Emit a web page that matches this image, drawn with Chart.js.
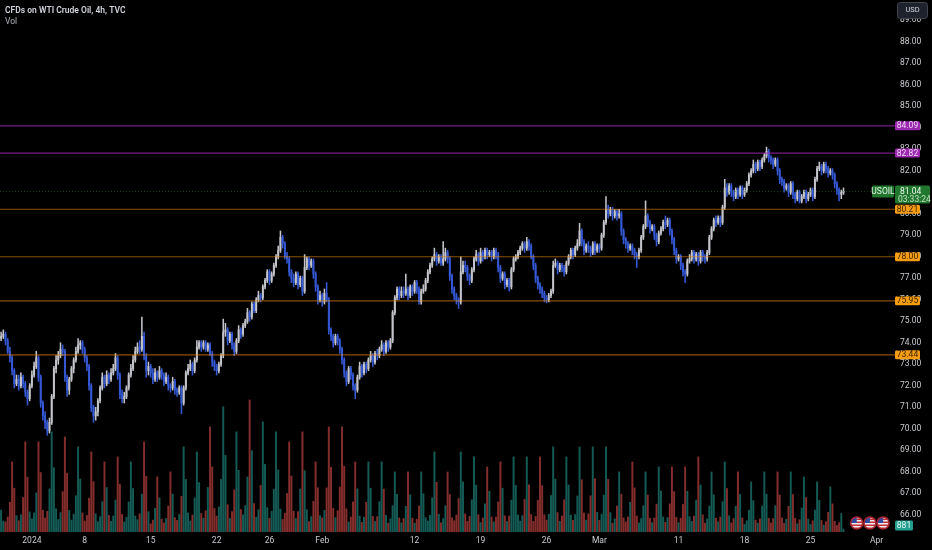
<!DOCTYPE html>
<html>
<head>
<meta charset="utf-8">
<script src="https://cdn.jsdelivr.net/npm/chart.js@4.4.1/dist/chart.umd.min.js"></script>
<style>
    html, body { margin: 0; padding: 0; background: #000; }
    #wrap { width: 932px; height: 550px; }
</style>
</head>
<body>
<div id="wrap"><canvas id="myChart" width="932" height="550"></canvas></div>
<script>
const firstOpen = 74.2;

const tradingDays = ['Dec 27', 'Dec 28', 'Dec 29', 'Jan 2', 'Jan 3', 'Jan 4', 'Jan 5',
    'Jan 8', 'Jan 9', 'Jan 10', 'Jan 11', 'Jan 12', 'Jan 15', 'Jan 16', 'Jan 17', 'Jan 18', 'Jan 19',
    'Jan 22', 'Jan 23', 'Jan 24', 'Jan 25', 'Jan 26', 'Jan 29', 'Jan 30', 'Jan 31', 'Feb 1', 'Feb 2',
    'Feb 5', 'Feb 6', 'Feb 7', 'Feb 8', 'Feb 9', 'Feb 12', 'Feb 13', 'Feb 14', 'Feb 15', 'Feb 16',
    'Feb 19', 'Feb 20', 'Feb 21', 'Feb 22', 'Feb 23', 'Feb 26', 'Feb 27', 'Feb 28', 'Feb 29', 'Mar 1',
    'Mar 4', 'Mar 5', 'Mar 6', 'Mar 7', 'Mar 8', 'Mar 11', 'Mar 12', 'Mar 13', 'Mar 14', 'Mar 15',
    'Mar 18', 'Mar 19', 'Mar 20', 'Mar 21', 'Mar 22', 'Mar 25', 'Mar 26', 'Mar 27', 'Mar 28', 'Mar 29',
    'Apr 1', 'Apr 2'];
const sessionHours = ['18:00', '22:00', '02:00', '06:00', '10:00', '14:00'];

const tickDays = ['Jan 2', 'Jan 8', 'Jan 15', 'Jan 22', 'Jan 26', 'Feb 1', 'Feb 12', 'Feb 19', 'Feb 26', 'Mar 1', 'Mar 11', 'Mar 18', 'Mar 25', 'Apr 1'];
const tickTexts = ['2024', '8', '15', '22', '26', 'Feb', '12', '19', '26', 'Mar', '11', '18', '25', 'Apr'];

const eventDays = ['Mar 28', 'Mar 29', 'Apr 1'];

const purpleLevels = [84.09, 82.82];
const orangeLevels = [80.21, 78.00, 75.95, 73.44];
const lastPrice = 81.04;
const countdown = '03:33:24';

// one row per trading day, 4h bars
const closes = [74.3, 74.4,
    74.1, 73.6, 73.3, 72.7, 72.1, 72.3,
    72.0, 72.4, 72.1, 71.7, 71.4, 72.0,
    72.5, 72.9, 73.3, 72.4, 71.2, 70.6,
    70.3, 69.9, 70.3, 71.5, 72.8, 73.2,
    73.4, 73.7, 73.6, 72.4, 71.8, 72.3,
    72.8, 73.2, 73.6, 73.9, 74.0, 73.7,
    73.3, 72.9, 72.0, 71.0, 70.6, 70.8,
    71.3, 71.9, 72.4, 72.1, 72.5, 72.3,
    72.6, 72.8, 73.3, 72.5, 71.6, 71.4,
    71.5, 71.9, 72.5, 72.8, 73.2, 73.6,
    73.8, 73.7, 74.3, 73.4, 72.7, 72.9,
    72.6, 72.3, 72.6, 72.4, 72.7, 72.5,
    72.2, 72.4, 72.0, 71.9, 72.2, 71.8,
    71.7, 71.9, 71.2, 71.9, 72.6, 72.8,
    73.0, 72.7, 73.2, 73.8, 74.0, 73.8,
    74.0, 73.7, 73.9, 73.5, 73.1, 72.9,
    72.7, 73.0, 73.4, 74.5, 74.6, 74.1,
    74.4, 73.9, 73.6, 74.1, 74.6, 74.4,
    74.8, 75.0, 75.4, 75.2, 75.8, 75.5,
    76.0, 76.2, 76.1, 76.6, 76.9, 77.3,
    76.9, 77.2, 77.6, 78.0, 78.3, 78.9,
    78.6, 78.0, 77.9, 77.3, 77.0, 76.8,
    77.2, 76.7, 77.0, 76.4, 77.5, 77.9,
    77.6, 77.8, 77.2, 76.6, 76.0, 76.2,
    75.9, 76.3, 76.0, 74.6, 74.3, 74.0,
    74.3, 74.1, 73.7, 73.2, 72.6, 72.2,
    72.8, 72.5, 72.0, 71.8, 72.4, 72.9,
    72.6, 73.0, 72.8, 73.2, 73.4, 73.1,
    73.5, 73.4, 73.7, 73.9, 73.6, 74.0,
    73.8, 74.1, 75.4, 76.1, 76.5, 76.2,
    76.4, 76.3, 76.5, 76.2, 76.6, 76.4,
    76.8, 76.5, 75.9, 76.4, 76.5, 76.9,
    77.3, 77.6, 77.9, 78.1, 77.8, 78.0,
    77.7, 77.9, 78.2, 77.9, 77.1, 76.5,
    76.2, 76.0, 75.9, 77.3, 77.6, 77.5,
    77.1, 76.9, 77.4, 77.9, 78.1, 77.8,
    78.2, 78.0, 78.3, 78.1, 78.2, 78.0,
    78.3, 78.1, 77.5, 77.0, 77.2, 76.7,
    76.9, 76.6, 77.4, 77.9, 78.0, 78.2,
    78.4, 78.6, 78.4, 78.7, 78.5, 78.0,
    77.6, 77.0, 76.7, 76.5, 76.3, 76.1,
    76.0, 76.2, 76.4, 77.6, 77.7, 77.4,
    77.6, 77.5, 77.3, 77.7, 78.0, 78.3,
    78.1, 78.4, 78.6, 79.2, 78.7, 78.3,
    78.5, 78.4, 78.2, 78.6, 78.3, 78.5,
    78.4, 79.0, 79.6, 80.2, 80.0, 80.2,
    79.9, 80.1, 79.9, 80.0, 79.2, 78.8,
    78.6, 78.4, 78.5, 78.3, 78.1, 78.0,
    78.3, 78.9, 79.4, 79.9, 79.6, 79.3,
    79.4, 79.0, 78.7, 79.1, 79.3, 79.6,
    79.5, 79.7, 79.2, 78.8, 78.3, 77.9,
    78.0, 77.6, 77.3, 77.2, 77.8, 77.9,
    78.2, 77.9, 78.1, 77.8, 78.2, 78.0,
    77.9, 78.2, 78.9, 79.3, 79.7, 79.6,
    79.8, 79.6, 80.3, 81.2, 81.0, 81.3,
    81.0, 80.8, 81.1, 80.9, 81.2, 80.9,
    81.1, 81.4, 81.8, 82.0, 82.3, 82.1,
    82.4, 82.2, 82.5, 82.7, 82.9, 82.6,
    82.5, 82.3, 82.5, 82.0, 81.6, 81.5,
    81.2, 81.3, 81.0, 81.4, 80.9, 80.7,
    81.0, 80.6, 80.8, 81.0, 80.7, 80.9,
    81.1, 80.8, 81.6, 82.1, 82.2, 82.0,
    82.3, 82.1, 81.9, 82.0, 81.8, 81.4,
    81.1, 80.9, 81.0, 81.04];

const highs = [74.5, 74.6,
    74.5, 74.2, 73.8, 73.4, 72.8, 72.5,
    72.5, 72.6, 72.5, 72.2, 71.8, 72.1,
    72.7, 73.1, 73.6, 73.4, 72.5, 71.3,
    70.8, 70.4, 70.5, 71.6, 72.9, 73.4,
    73.6, 74.0, 73.9, 73.7, 72.5, 72.4,
    72.9, 73.3, 73.8, 74.2, 74.1, 74.1,
    73.8, 73.4, 73.0, 72.1, 71.1, 71.0,
    71.4, 72.0, 72.6, 72.5, 72.7, 72.6,
    72.8, 73.0, 73.5, 73.4, 72.6, 71.8,
    71.7, 72.0, 72.6, 73.0, 73.4, 73.8,
    74.0, 74.1, 75.2, 74.5, 73.5, 73.1,
    73.0, 72.8, 72.8, 72.7, 72.9, 72.8,
    72.6, 72.6, 72.5, 72.1, 72.4, 72.3,
    71.9, 72.0, 72.0, 72.0, 72.7, 73.0,
    73.2, 73.1, 73.3, 74.1, 74.1, 74.1,
    74.1, 74.1, 74.0, 74.0, 73.6, 73.2,
    73.0, 73.1, 73.5, 75.1, 74.9, 74.7,
    74.5, 74.5, 74.0, 74.2, 74.8, 74.7,
    74.9, 75.1, 75.6, 75.5, 75.9, 75.9,
    76.1, 76.4, 76.3, 76.7, 77.0, 77.4,
    77.4, 77.3, 77.7, 78.1, 78.5, 79.2,
    79.0, 78.7, 78.2, 78.0, 77.4, 77.2,
    77.3, 77.3, 77.1, 77.1, 78.1, 78.0,
    78.0, 77.9, 77.9, 77.3, 76.7, 76.4,
    76.3, 76.5, 76.8, 76.1, 74.7, 74.4,
    74.4, 74.4, 74.2, 73.8, 73.3, 72.7,
    72.9, 72.9, 72.6, 72.1, 72.5, 73.1,
    73.0, 73.1, 73.1, 73.3, 73.6, 73.5,
    73.6, 73.7, 73.8, 74.1, 74.0, 74.1,
    74.1, 74.2, 75.5, 76.2, 76.6, 76.6,
    76.6, 76.6, 77.2, 76.6, 76.7, 76.7,
    76.9, 76.9, 76.6, 76.5, 76.7, 77.0,
    77.4, 77.7, 78.0, 78.4, 78.2, 78.1,
    78.1, 78.7, 78.4, 78.3, 78.0, 77.2,
    76.6, 76.3, 76.1, 78.0, 77.8, 77.8,
    77.6, 77.2, 77.5, 78.0, 78.3, 78.2,
    78.4, 78.3, 78.4, 78.4, 78.3, 78.3,
    78.4, 78.4, 78.2, 77.6, 77.3, 77.3,
    77.0, 77.0, 77.5, 78.0, 78.1, 78.3,
    78.5, 78.7, 78.7, 78.9, 78.8, 78.6,
    78.1, 77.7, 77.1, 76.8, 76.6, 76.4,
    76.2, 76.3, 76.5, 77.8, 77.9, 77.8,
    77.7, 77.7, 77.6, 77.8, 78.1, 78.4,
    78.4, 78.5, 78.8, 79.55, 79.3, 78.8,
    78.6, 78.7, 78.5, 78.7, 78.7, 78.6,
    78.6, 79.1, 79.7, 80.8, 80.4, 80.3,
    80.3, 80.2, 80.2, 80.2, 80.1, 79.3,
    78.9, 78.7, 78.6, 78.6, 78.4, 78.2,
    78.4, 79.0, 79.5, 80.6, 80.0, 79.7,
    79.5, 79.5, 79.1, 79.2, 79.4, 79.7,
    79.9, 79.8, 79.8, 79.3, 78.9, 78.4,
    78.1, 78.1, 77.7, 77.4, 77.9, 78.1,
    78.3, 78.3, 78.2, 78.2, 78.3, 78.3,
    78.1, 78.3, 79.0, 79.4, 79.8, 79.9,
    79.9, 79.9, 80.4, 81.6, 81.4, 81.4,
    81.4, 81.1, 81.2, 81.2, 81.3, 81.3,
    81.2, 81.5, 81.9, 82.1, 82.5, 82.4,
    82.5, 82.5, 82.6, 82.8, 83.1, 83.0,
    82.7, 82.6, 82.6, 82.6, 82.1, 81.7,
    81.6, 81.4, 81.4, 81.5, 81.5, 81.0,
    81.1, 81.1, 80.9, 81.1, 81.1, 81.0,
    81.2, 81.2, 81.7, 82.2, 82.4, 82.3,
    82.4, 82.4, 82.2, 82.1, 82.1, 81.9,
    81.5, 81.2, 81.1, 81.2];

const lows = [74.1, 74.2,
    73.9, 73.5, 73.1, 72.5, 71.9, 72.0,
    71.8, 71.9, 71.9, 71.5, 71.1, 71.3,
    71.9, 72.4, 72.8, 72.2, 71.0, 70.4,
    70.0, 69.7, 69.8, 70.2, 71.4, 72.6,
    73.0, 73.3, 73.4, 72.2, 71.5, 71.6,
    72.2, 72.6, 73.1, 73.5, 73.7, 73.5,
    73.1, 72.7, 71.8, 70.8, 70.3, 70.4,
    70.6, 71.2, 71.8, 71.9, 72.0, 72.1,
    72.2, 72.5, 72.7, 72.3, 71.4, 71.2,
    71.2, 71.4, 71.8, 72.4, 72.7, 73.1,
    73.5, 73.5, 73.6, 73.2, 72.4, 72.5,
    72.4, 72.1, 72.2, 72.2, 72.3, 72.3,
    72.0, 72.1, 71.8, 71.7, 71.8, 71.6,
    71.5, 71.6, 70.7, 71.1, 71.8, 72.5,
    72.7, 72.5, 72.6, 73.1, 73.7, 73.6,
    73.7, 73.6, 73.6, 73.4, 72.9, 72.7,
    72.5, 72.6, 72.9, 73.3, 74.3, 73.9,
    74.0, 73.7, 73.4, 73.5, 74.0, 74.2,
    74.3, 74.7, 74.9, 75.0, 75.1, 75.4,
    75.4, 75.9, 75.9, 76.0, 76.5, 76.8,
    76.7, 76.8, 77.1, 77.5, 77.9, 78.2,
    78.4, 77.9, 77.7, 77.1, 76.8, 76.6,
    76.7, 76.5, 76.6, 76.2, 76.3, 77.4,
    77.4, 77.5, 77.0, 76.4, 75.8, 75.9,
    75.7, 75.8, 75.9, 74.4, 74.1, 73.8,
    73.9, 73.9, 73.5, 73.0, 72.4, 72.0,
    72.1, 72.3, 71.8, 71.4, 71.7, 72.3,
    72.4, 72.5, 72.6, 72.7, 73.1, 72.9,
    73.0, 73.2, 73.3, 73.6, 73.4, 73.5,
    73.6, 73.7, 74.0, 75.3, 76.0, 76.0,
    76.1, 76.1, 76.2, 76.0, 76.1, 76.2,
    76.3, 76.3, 75.8, 75.8, 76.3, 76.4,
    76.8, 77.2, 77.5, 77.8, 77.6, 77.7,
    77.6, 77.6, 77.8, 77.7, 76.9, 76.3,
    76.0, 75.8, 75.6, 75.8, 77.2, 77.3,
    76.9, 76.7, 76.8, 77.3, 77.8, 77.6,
    77.7, 77.8, 77.9, 77.9, 78.0, 77.8,
    77.9, 77.9, 77.3, 76.8, 76.9, 76.5,
    76.6, 76.4, 76.5, 77.3, 77.8, 77.9,
    78.1, 78.3, 78.2, 78.3, 78.3, 77.9,
    77.4, 76.8, 76.5, 76.3, 76.1, 75.9,
    75.85, 75.9, 76.1, 76.3, 77.5, 77.2,
    77.3, 77.3, 77.1, 77.2, 77.6, 77.9,
    77.9, 78.0, 78.3, 78.5, 78.5, 78.1,
    78.2, 78.2, 78.0, 78.1, 78.1, 78.2,
    78.2, 78.3, 78.9, 79.5, 79.8, 79.9,
    79.7, 79.8, 79.7, 79.8, 79.0, 78.6,
    78.4, 78.2, 78.3, 78.1, 77.9, 77.5,
    77.9, 78.2, 78.8, 79.3, 79.4, 79.1,
    79.2, 78.8, 78.5, 78.6, 79.0, 79.2,
    79.3, 79.4, 79.0, 78.6, 78.1, 77.7,
    77.8, 77.4, 77.1, 76.8, 77.1, 77.7,
    77.8, 77.7, 77.8, 77.6, 77.7, 77.8,
    77.7, 77.8, 78.1, 78.8, 79.2, 79.4,
    79.5, 79.4, 79.5, 80.2, 80.8, 80.9,
    80.8, 80.6, 80.7, 80.7, 80.8, 80.7,
    80.8, 81.0, 81.3, 81.7, 81.9, 81.9,
    82.0, 82.0, 82.1, 82.4, 82.6, 82.4,
    82.3, 82.1, 82.2, 81.8, 81.4, 81.3,
    81.0, 81.1, 80.8, 80.9, 80.7, 80.5,
    80.6, 80.5, 80.5, 80.7, 80.5, 80.6,
    80.8, 80.6, 80.7, 81.5, 82.0, 81.8,
    81.9, 81.9, 81.7, 81.8, 81.6, 81.2,
    80.9, 80.6, 80.7, 80.9];

const volumes = [7000, 3500,
    3200, 4800, 9500, 22400, 14000, 5200,
    3600, 5500, 11000, 28800, 17500, 6400,
    4200, 6100, 12500, 28800, 19000, 7000,
    4500, 6600, 13800, 32000, 20500, 7400,
    4000, 6200, 12900, 30400, 18800, 6900,
    3800, 5700, 11600, 27200, 16900, 6100,
    3500, 5300, 10800, 25600, 16100, 5800,
    3300, 4900, 9700, 22400, 14200, 5300,
    3400, 5100, 10200, 24000, 15300, 5600,
    3200, 4700, 9600, 22400, 13900, 5100,
    3900, 5800, 12100, 28800, 17800, 6500,
    2600, 3800, 7600, 17600, 10900, 4100,
    2900, 4300, 8300, 19200, 12100, 4600,
    3700, 5600, 11400, 27200, 16800, 6100,
    3500, 5400, 10900, 25600, 15800, 5900,
    4400, 6800, 14200, 33600, 20800, 7500,
    5100, 8000, 16800, 40000, 24500, 8700,
    4300, 6500, 13500, 32000, 19700, 7200,
    5500, 8400, 17600, 42200, 26000, 9100,
    4700, 7100, 14900, 35200, 21600, 7800,
    4400, 6600, 13600, 32000, 19800, 7300,
    4000, 6000, 12300, 28800, 17900, 6600,
    4300, 6500, 13700, 32000, 19600, 7100,
    3300, 4900, 9800, 22400, 14100, 5200,
    4500, 6900, 14100, 33600, 20700, 7600,
    4600, 6800, 14400, 33600, 21000, 7400,
    3200, 4800, 9600, 22400, 13800, 5100,
    3100, 4700, 9500, 22400, 14000, 5000,
    3300, 4900, 9700, 22400, 13700, 5300,
    2800, 4200, 8400, 19200, 12000, 4500,
    2900, 4300, 8200, 19200, 11900, 4400,
    2800, 4100, 8300, 19200, 12200, 4600,
    3500, 5300, 10900, 25600, 15900, 5700,
    2900, 4300, 8400, 19200, 12000, 4500,
    3600, 5400, 10700, 25600, 16000, 5800,
    3400, 5000, 10300, 24000, 15000, 5500,
    3000, 4500, 9000, 20800, 13000, 4800,
    3200, 4800, 9600, 22400, 14000, 5200,
    3300, 5100, 10200, 24000, 14900, 5400,
    3500, 5200, 10400, 24000, 15100, 5600,
    3400, 5000, 10100, 24000, 14800, 5500,
    3800, 5700, 11700, 27200, 16900, 6200,
    3400, 5100, 10300, 24000, 15000, 5400,
    3700, 5600, 11500, 27200, 16700, 6100,
    3800, 5800, 11600, 27200, 17000, 6300,
    3700, 5700, 11800, 27200, 16800, 6200,
    2800, 4200, 8300, 19200, 12100, 4500,
    3200, 4800, 9500, 22400, 14100, 5100,
    2900, 4300, 8400, 19200, 11800, 4400,
    3000, 4500, 8900, 20800, 13100, 4800,
    3100, 4600, 9000, 20800, 12900, 4700,
    3000, 4400, 8800, 20800, 13000, 4900,
    3400, 5100, 10200, 24000, 15000, 5500,
    2800, 4200, 8300, 19200, 11900, 4400,
    3200, 4800, 9700, 22400, 13900, 5200,
    2900, 4300, 8200, 19200, 12000, 4500,
    2400, 3600, 7000, 16000, 10000, 3800,
    2800, 4200, 8300, 19200, 12100, 4400,
    2900, 4300, 8400, 19200, 11800, 4500,
    2800, 4100, 8200, 19200, 12000, 4400,
    2600, 3900, 7700, 17600, 11000, 4100,
    2400, 3600, 7000, 16000, 10100, 3700,
    2200, 3300, 6300, 14400, 9000, 3400,
    2100, 3000, 5900, 881];

const upColor = '#c3c5cb';
const downColor = '#3559d6';
const volUp = 'rgba(38, 166, 154, 0.55)';
const volDown = 'rgba(239, 83, 80, 0.55)';
const fontFamily = 'Roboto, "Noto Sans", sans-serif';

// Dec 27 only shows its last two bars, Apr 2 only two empty slots before the price scale
const categories = [];
tradingDays.forEach(day => {
    sessionHours.forEach(h => categories.push(day + ' ' + h));
});
const slots = categories.slice(4, 410);

const opens = closes.map((c, i) => i === 0 ? firstOpen : closes[i - 1]);
const bodies = closes.map((c, i) => [opens[i], c]);
const wicks = lows.map((l, i) => [l, highs[i]]);
const candleColors = closes.map((c, i) => c >= opens[i] ? upColor : downColor);
const volumeColors = closes.map((c, i) => c >= opens[i] ? volUp : volDown);

function drawBox(ctx, x, yc, w, h, bg, text, color) {
    ctx.fillStyle = bg;
    ctx.beginPath();
    ctx.roundRect(x, yc - h / 2, w, h, 1.5);
    ctx.fill();
    if (text) {
        ctx.fillStyle = color;
        ctx.textAlign = 'center';
        ctx.textBaseline = 'middle';
        ctx.fillText(text, x + w / 2, yc + 0.5);
    }
}

function drawFlag(ctx, x, y) {
    const r = 6;
    ctx.save();
    ctx.beginPath();
    ctx.arc(x, y, r, 0, Math.PI * 2);
    ctx.fillStyle = '#e9e9ee';
    ctx.fill();
    ctx.clip();
    ctx.fillStyle = '#c9303a';
    for (let k = 0; k < 4; k++) {
        ctx.fillRect(x - r, y - r + 1.5 + k * 3, r * 2, 1.5);
    }
    ctx.fillStyle = '#2f4aa0';
    ctx.fillRect(x - r, y - r, r, r);
    ctx.restore();
    ctx.beginPath();
    ctx.arc(x, y, r, 0, Math.PI * 2);
    ctx.strokeStyle = '#a8242e';
    ctx.lineWidth = 1.6;
    ctx.stroke();
}

function drawLevel(ctx, py, right, color) {
    ctx.strokeStyle = color;
    ctx.beginPath();
    ctx.moveTo(0, py);
    ctx.lineTo(right, py);
    ctx.stroke();
}

const overlays = {
    id: 'overlays',
    afterDatasetsDraw(chart) {
        const ctx = chart.ctx;
        const y = chart.scales.y;
        const right = chart.chartArea.right + 2;
        ctx.save();
        ctx.lineWidth = 1.2;
        purpleLevels.forEach(v => drawLevel(ctx, y.getPixelForValue(v), right, 'rgba(156, 39, 176, 0.75)'));
        orangeLevels.forEach(v => drawLevel(ctx, y.getPixelForValue(v), right, 'rgba(230, 135, 0, 0.6)'));
        ctx.lineWidth = 1;
        ctx.setLineDash([1, 2]);
        drawLevel(ctx, Math.round(y.getPixelForValue(lastPrice)) + 0.5, 872, 'rgba(46, 125, 50, 0.5)');
        ctx.restore();
    },
    afterDraw(chart) {
        const ctx = chart.ctx;
        const y = chart.scales.y;
        const x = chart.scales.x;
        const axisX = chart.chartArea.right + 2;
        ctx.save();

        // title
        ctx.textAlign = 'left';
        ctx.textBaseline = 'middle';
        ctx.fillStyle = '#d1d4dc';
        ctx.font = '600 8.5px ' + fontFamily;
        ctx.fillText('CFDs on WTI Crude Oil, 4h, TVC', 5, 11);
        ctx.fillStyle = '#b2b5be';
        ctx.font = '8.5px ' + fontFamily;
        ctx.fillText('Vol', 5, 21.5);

        // currency button
        ctx.fillStyle = '#1e222d';
        ctx.strokeStyle = '#434651';
        ctx.lineWidth = 1;
        ctx.beginPath();
        ctx.roundRect(897.5, 2.5, 30, 16, 3);
        ctx.fill();
        ctx.stroke();
        ctx.fillStyle = '#d1d4dc';
        ctx.textAlign = 'center';
        ctx.font = '7.5px ' + fontFamily;
        ctx.fillText('USD', 912.5, 10.5);

        ctx.font = '8.5px ' + fontFamily;
        purpleLevels.forEach(v => {
            drawBox(ctx, axisX, y.getPixelForValue(v), 25, 9, '#9c27b0', v.toFixed(2), '#ecd9f2');
        });

        // last price
        const lp = y.getPixelForValue(lastPrice);
        drawBox(ctx, 872, lp, 22, 12, '#22772f', 'USOIL', '#e6f2e7');
        ctx.fillStyle = '#22772f';
        ctx.beginPath();
        ctx.roundRect(axisX, lp - 6, 35, 18, 1.5);
        ctx.fill();
        ctx.fillStyle = '#eef6ee';
        ctx.textAlign = 'left';
        ctx.fillText(lastPrice.toFixed(2), axisX + 5, lp + 0.5);
        ctx.fillStyle = '#bfe0c1';
        ctx.fillText(countdown, axisX + 3, lp + 8.5);

        orangeLevels.forEach(v => {
            drawBox(ctx, axisX, y.getPixelForValue(v), 25, 9, '#f59c12', v.toFixed(2), '#3a2400');
        });

        // economic events
        eventDays.forEach(day => {
            const idx = slots.indexOf(day + ' ' + sessionHours[3]);
            drawFlag(ctx, x.getPixelForValue(idx), 523);
        });

        // current volume
        drawBox(ctx, axisX, 525.5, 18, 10, '#22a08f', String(volumes[volumes.length - 1]), '#e8f6f3');

        ctx.restore();
    }
};

const ctx = document.getElementById('myChart');

const grafica = new Chart(ctx, {
    type: 'bar',
    data: {
        labels: slots,
        datasets: [{
            label: 'body',
            data: bodies,
            backgroundColor: candleColors,
            barThickness: 1.3,
            minBarLength: 1,
            grouped: false,
            order: 1
        }, {
            label: 'wick',
            data: wicks,
            backgroundColor: candleColors,
            barThickness: 0.9,
            grouped: false,
            order: 2
        }, {
            label: 'Vol',
            data: volumes,
            yAxisID: 'yv',
            backgroundColor: volumeColors,
            barThickness: 1.3,
            grouped: false,
            order: 3
        }]
    },
    options: {
        responsive: false,
        animation: false,
        layout: { padding: 0 },
        plugins: {
            legend: { display: false },
            tooltip: { enabled: false }
        },
        scales: {
            x: {
                grid: { display: false, drawTicks: false },
                border: { display: false },
                afterFit: s => { s.height = 18; s.paddingLeft = 0; s.paddingRight = 0; },
                ticks: {
                    autoSkip: false,
                    maxRotation: 0,
                    minRotation: 0,
                    padding: 4,
                    color: '#c8cad0',
                    font: { family: fontFamily, size: 8.5 },
                    callback: function (value) {
                        const parts = this.getLabelForValue(value).split(' ');
                        if (parts[2] !== sessionHours[0]) return '';
                        const pos = tickDays.indexOf(parts[0] + ' ' + parts[1]);
                        return pos >= 0 ? tickTexts[pos] : '';
                    }
                }
            },
            y: {
                position: 'right',
                min: 65.2,
                max: 89.94,
                grid: { display: false, drawTicks: false },
                border: { display: false },
                afterFit: s => { s.width = 39; s.paddingTop = 0; s.paddingBottom = 0; },
                ticks: {
                    stepSize: 1,
                    includeBounds: false,
                    padding: 7,
                    color: '#c8cad0',
                    font: { family: fontFamily, size: 8.5 },
                    callback: v => v.toFixed(2)
                }
            },
            yv: {
                display: false,
                min: 0,
                max: 170000
            }
        }
    },
    plugins: [overlays]
});
</script>
</body>
</html>
